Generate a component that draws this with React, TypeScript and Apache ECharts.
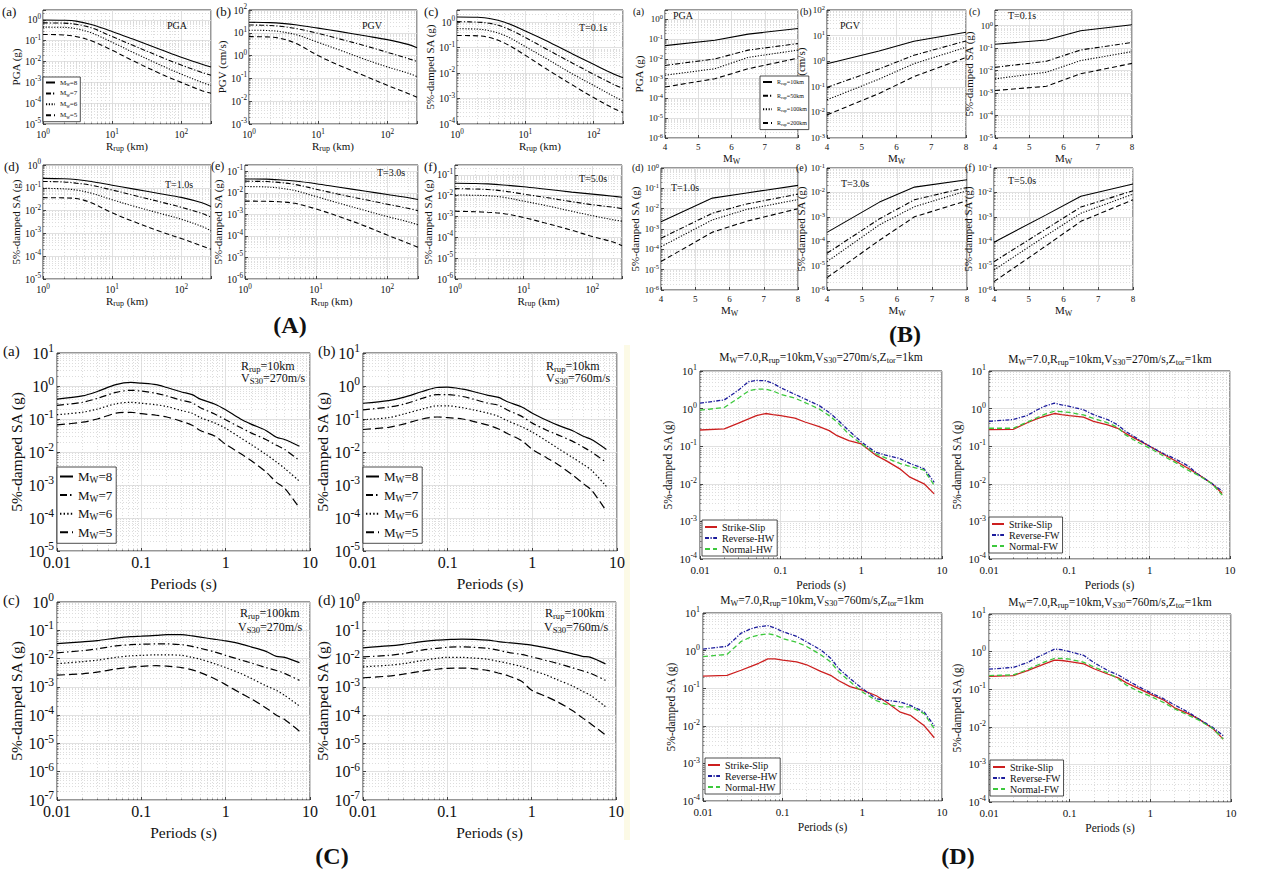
import React, { useEffect, useRef } from 'react';
import * as echarts from 'echarts';

const FONT = 'Liberation Serif, Times New Roman, serif';
const INK = '#111111';
const MAJOR = '#d9d9d9';
const MINOR = '#cfcfcf';

// ---------------- (A) amplitude vs rupture distance ----------------
const RRUP = [1, 2, 3, 5, 10, 20, 50, 100, 200, 270];
const A_PGA_M8 = [1.0, 0.97, 0.88, 0.6, 0.28, 0.12, 0.038, 0.016, 0.0075, 0.0055];
const A_PGA_M7 = [0.72, 0.7, 0.62, 0.42, 0.16, 0.06, 0.017, 0.0068, 0.003, 0.0022];
const A_PGA_M6 = [0.45, 0.44, 0.38, 0.24, 0.085, 0.028, 0.0068, 0.0025, 0.001, 0.0007];
const A_PGA_M5 = [0.2, 0.19, 0.16, 0.1, 0.035, 0.011, 0.0026, 0.001, 0.0004, 0.0003];
const A_PGV_M8 = [29, 28, 26, 22, 16, 11.5, 7.2, 5, 3.1, 2.2];
const A_PGV_M7 = [22, 21, 19, 15, 9.5, 5.5, 2.6, 1.4, 0.75, 0.55];
const A_PGV_M6 = [13, 12.5, 11, 8, 3.8, 1.8, 0.65, 0.32, 0.17, 0.12];
const A_PGV_M5 = [6.8, 6.5, 5.5, 3.2, 1.0, 0.38, 0.12, 0.05, 0.022, 0.015];
const A_T01_M8 = [1.6, 1.55, 1.4, 1.0, 0.45, 0.19, 0.055, 0.022, 0.009, 0.0065];
const A_T01_M7 = [1.05, 1.0, 0.9, 0.62, 0.25, 0.09, 0.024, 0.009, 0.0035, 0.0025];
const A_T01_M6 = [0.55, 0.53, 0.46, 0.3, 0.11, 0.038, 0.009, 0.0033, 0.0012, 0.0008];
const A_T01_M5 = [0.3, 0.29, 0.25, 0.15, 0.05, 0.015, 0.0033, 0.0011, 0.0004, 0.00028];
const A_T1_M8 = [0.26, 0.25, 0.23, 0.19, 0.13, 0.09, 0.055, 0.038, 0.022, 0.015];
const A_T1_M7 = [0.19, 0.18, 0.16, 0.13, 0.08, 0.048, 0.024, 0.014, 0.0075, 0.0052];
const A_T1_M6 = [0.095, 0.09, 0.08, 0.058, 0.03, 0.016, 0.0075, 0.0042, 0.002, 0.0013];
const A_T1_M5 = [0.037, 0.036, 0.034, 0.022, 0.008, 0.0034, 0.0012, 0.0006, 0.00028, 0.0002];
const A_T3_M8 = [0.045, 0.044, 0.041, 0.036, 0.027, 0.019, 0.012, 0.0085, 0.006, 0.005];
const A_T3_M7 = [0.035, 0.034, 0.031, 0.025, 0.015, 0.009, 0.0048, 0.003, 0.0019, 0.0015];
const A_T3_M6 = [0.02, 0.019, 0.017, 0.013, 0.0068, 0.0035, 0.0015, 0.0008, 0.00045, 0.00033];
const A_T3_M5 = [0.0042, 0.0041, 0.0039, 0.0033, 0.0018, 0.00085, 0.00028, 0.00011, 0.000045, 0.00003];
const A_T5_M8 = [0.04, 0.039, 0.037, 0.033, 0.027, 0.021, 0.015, 0.012, 0.0095, 0.0085];
const A_T5_M7 = [0.022, 0.021, 0.02, 0.017, 0.012, 0.0085, 0.0052, 0.0037, 0.0028, 0.0024];
const A_T5_M6 = [0.011, 0.0105, 0.01, 0.0085, 0.0055, 0.0035, 0.0018, 0.0011, 0.0007, 0.0006];
const A_T5_M5 = [0.0018, 0.0017, 0.0016, 0.0014, 0.0009, 0.0005, 0.00022, 0.00011, 0.00006, 0.00004];

// ---------------- (B) amplitude vs magnitude ----------------
const MW = [4, 5.5, 6.5, 8];
const B_PGA_R10 = [0.047, 0.089, 0.18, 0.35];
const B_PGA_R50 = [0.0047, 0.01, 0.028, 0.06];
const B_PGA_R100 = [0.0015, 0.0032, 0.012, 0.028];
const B_PGA_R200 = [0.00038, 0.001, 0.0032, 0.011];
const B_PGV_R10 = [0.8, 2.5, 6, 13.5];
const B_PGV_R50 = [0.095, 0.5, 1.7, 6.2];
const B_PGV_R100 = [0.031, 0.2, 0.8, 3.5];
const B_PGV_R200 = [0.008, 0.055, 0.25, 1.4];
const B_T01_R10 = [0.15, 0.23, 0.6, 1.1];
const B_T01_R50 = [0.014, 0.026, 0.083, 0.18];
const B_T01_R100 = [0.0043, 0.0085, 0.028, 0.07];
const B_T01_R200 = [0.0013, 0.002, 0.0072, 0.021];
const B_T1_R10 = [0.0023, 0.033, 0.059, 0.14];
const B_T1_R50 = [0.00035, 0.006, 0.017, 0.052];
const B_T1_R100 = [0.000135, 0.0028, 0.0092, 0.028];
const B_T1_R200 = [0.000025, 0.0007, 0.0024, 0.01];
const B_T3_R10 = [0.00023, 0.004, 0.0165, 0.033];
const B_T3_R50 = [0.000032, 0.00083, 0.005, 0.016];
const B_T3_R100 = [0.0000145, 0.00047, 0.0026, 0.0117];
const B_T3_R200 = [0.0000032, 0.00011, 0.001, 0.0046];
const B_T5_R10 = [0.000091, 0.0012, 0.0069, 0.022];
const B_T5_R50 = [0.0000145, 0.00032, 0.0025, 0.0117];
const B_T5_R100 = [0.0000066, 0.00017, 0.0014, 0.0085];
const B_T5_R200 = [0.0000022, 0.000065, 0.00065, 0.005];

// ---------------- (C) response spectra by magnitude ----------------
const PER_C = [0.01, 0.02, 0.03, 0.05, 0.075, 0.1, 0.15, 0.2, 0.3, 0.4, 0.5, 0.75, 1, 1.5, 2, 3, 4, 5, 7.5];
const C_A_M8 = [0.4, 0.5, 0.68, 1.1, 1.28, 1.22, 1.1, 0.9, 0.66, 0.55, 0.4, 0.28, 0.19, 0.1, 0.07, 0.045, 0.028, 0.024, 0.015];
const C_A_M7 = [0.26, 0.32, 0.42, 0.64, 0.74, 0.7, 0.6, 0.5, 0.37, 0.31, 0.22, 0.14, 0.095, 0.055, 0.038, 0.024, 0.016, 0.012, 0.0055];
const C_A_M6 = [0.135, 0.16, 0.2, 0.29, 0.32, 0.3, 0.27, 0.24, 0.18, 0.15, 0.11, 0.075, 0.052, 0.027, 0.017, 0.0085, 0.005, 0.0032, 0.0013];
const C_A_M5 = [0.066, 0.08, 0.1, 0.15, 0.16, 0.145, 0.13, 0.115, 0.085, 0.065, 0.045, 0.03, 0.017, 0.009, 0.0055, 0.0025, 0.0012, 0.0008, 0.0002];
const C_B_M8 = [0.3, 0.36, 0.45, 0.68, 0.9, 0.92, 0.8, 0.68, 0.52, 0.45, 0.34, 0.23, 0.15, 0.09, 0.065, 0.044, 0.03, 0.024, 0.012];
const C_B_M7 = [0.19, 0.23, 0.28, 0.42, 0.55, 0.55, 0.48, 0.4, 0.3, 0.26, 0.19, 0.12, 0.075, 0.045, 0.033, 0.021, 0.014, 0.01, 0.0048];
const C_B_M6 = [0.095, 0.11, 0.14, 0.2, 0.25, 0.25, 0.22, 0.19, 0.15, 0.12, 0.09, 0.058, 0.04, 0.021, 0.013, 0.0068, 0.0042, 0.0028, 0.0009];
const C_B_M5 = [0.048, 0.056, 0.07, 0.1, 0.115, 0.11, 0.1, 0.085, 0.065, 0.05, 0.037, 0.022, 0.012, 0.0065, 0.0042, 0.002, 0.0011, 0.0007, 0.00016];
const C_C_M8 = [0.034, 0.039, 0.043, 0.053, 0.06, 0.062, 0.066, 0.07, 0.07, 0.063, 0.057, 0.048, 0.042, 0.033, 0.026, 0.018, 0.012, 0.011, 0.0072];
const C_C_M7 = [0.016, 0.019, 0.022, 0.028, 0.031, 0.032, 0.033, 0.033, 0.031, 0.027, 0.023, 0.017, 0.013, 0.009, 0.007, 0.0048, 0.0038, 0.003, 0.0017];
const C_C_M6 = [0.0066, 0.0078, 0.0088, 0.011, 0.0125, 0.013, 0.0135, 0.0135, 0.013, 0.011, 0.0095, 0.0065, 0.0048, 0.003, 0.002, 0.0011, 0.00075, 0.0005, 0.00021];
const C_C_M5 = [0.0026, 0.0029, 0.0033, 0.0043, 0.005, 0.0053, 0.0056, 0.0054, 0.0048, 0.004, 0.0032, 0.0019, 0.0012, 0.0006, 0.00038, 0.00018, 0.0001, 0.00007, 0.000027];
const C_D_M8 = [0.024, 0.028, 0.032, 0.04, 0.045, 0.047, 0.049, 0.048, 0.045, 0.04, 0.037, 0.033, 0.03, 0.024, 0.02, 0.015, 0.012, 0.011, 0.0065];
const C_D_M7 = [0.0115, 0.013, 0.015, 0.02, 0.023, 0.025, 0.026, 0.025, 0.023, 0.02, 0.017, 0.014, 0.0115, 0.0085, 0.0068, 0.0048, 0.0037, 0.003, 0.0017];
const C_D_M6 = [0.0051, 0.0058, 0.0066, 0.0085, 0.0102, 0.011, 0.011, 0.0105, 0.0095, 0.008, 0.007, 0.0053, 0.0039, 0.0026, 0.0018, 0.0011, 0.0007, 0.0005, 0.0002];
const C_D_M5 = [0.0021, 0.0024, 0.0028, 0.0036, 0.0042, 0.0045, 0.0046, 0.0044, 0.0038, 0.0031, 0.0026, 0.0016, 0.00076, 0.00045, 0.0003, 0.00015, 0.00008, 0.00005, 0.00002];

// ---------------- (D) response spectra by fault type ----------------
const PER_D = [0.01, 0.02, 0.03, 0.04, 0.05, 0.065, 0.08, 0.1, 0.15, 0.2, 0.3, 0.4, 0.5, 0.7, 1, 1.5, 2, 3, 4, 6, 8];
const D_A_SS = [0.27, 0.29, 0.41, 0.53, 0.65, 0.74, 0.69, 0.65, 0.56, 0.44, 0.33, 0.26, 0.19, 0.14, 0.115, 0.058, 0.042, 0.025, 0.015, 0.01, 0.0054];
const D_A_RV = [1.4, 1.7, 3.1, 5.2, 5.6, 5.5, 4.7, 3.6, 2.4, 1.8, 1.2, 0.79, 0.52, 0.26, 0.13, 0.069, 0.058, 0.047, 0.035, 0.025, 0.011];
const D_A_NM = [0.91, 1.07, 1.9, 2.95, 3.3, 3.3, 2.95, 2.4, 1.9, 1.45, 0.98, 0.65, 0.44, 0.21, 0.115, 0.063, 0.049, 0.035, 0.029, 0.023, 0.0091];
const D_B_SS = [0.275, 0.28, 0.42, 0.54, 0.63, 0.74, 0.69, 0.65, 0.59, 0.46, 0.37, 0.3, 0.22, 0.15, 0.1, 0.06, 0.043, 0.026, 0.018, 0.01, 0.0055];
const D_B_RV = [0.46, 0.51, 0.66, 0.93, 1.17, 1.4, 1.26, 1.15, 0.93, 0.69, 0.51, 0.37, 0.25, 0.16, 0.1, 0.063, 0.048, 0.03, 0.018, 0.01, 0.0065];
const D_B_NM = [0.3, 0.3, 0.44, 0.58, 0.71, 0.85, 0.83, 0.79, 0.68, 0.55, 0.42, 0.32, 0.2, 0.13, 0.089, 0.054, 0.039, 0.023, 0.017, 0.01, 0.005];
const D_C_SS = [0.21, 0.22, 0.3, 0.38, 0.46, 0.6, 0.6, 0.56, 0.5, 0.42, 0.28, 0.22, 0.16, 0.11, 0.089, 0.063, 0.043, 0.023, 0.019, 0.01, 0.0048];
const D_C_RV = [1.1, 1.3, 2.9, 3.8, 4.3, 4.6, 4.0, 3.2, 2.4, 1.7, 1.05, 0.63, 0.34, 0.18, 0.098, 0.052, 0.048, 0.043, 0.035, 0.023, 0.01];
const D_C_NM = [0.69, 0.79, 1.74, 2.3, 2.6, 2.8, 2.6, 2.1, 1.66, 1.29, 0.78, 0.5, 0.28, 0.15, 0.079, 0.047, 0.037, 0.032, 0.032, 0.021, 0.0083];
const D_D_SS = [0.22, 0.23, 0.31, 0.4, 0.48, 0.59, 0.58, 0.54, 0.47, 0.35, 0.25, 0.2, 0.15, 0.107, 0.074, 0.05, 0.032, 0.022, 0.016, 0.0089, 0.0047];
const D_D_RV = [0.34, 0.38, 0.51, 0.71, 0.89, 1.17, 1.12, 1.0, 0.79, 0.51, 0.31, 0.24, 0.18, 0.12, 0.081, 0.054, 0.038, 0.024, 0.016, 0.0095, 0.0058];
const D_D_NM = [0.23, 0.24, 0.33, 0.44, 0.54, 0.66, 0.66, 0.63, 0.52, 0.39, 0.27, 0.19, 0.13, 0.089, 0.065, 0.043, 0.03, 0.02, 0.015, 0.0089, 0.0047];

// ---------------- names ----------------
const MW_NAMES_A = ['M_{w}=8', 'M_{w}=7', 'M_{w}=6', 'M_{w}=5'];
const R_NAMES_B = ['R_{rup}=10km', 'R_{rup}=50km', 'R_{rup}=100km', 'R_{rup}=200km'];
const MW_NAMES_C = ['M_{W}=8', 'M_{W}=7', 'M_{W}=6', 'M_{W}=5'];
const HW_NAMES = ['Strike-Slip', 'Reverse-HW', 'Normal-HW'];
const FW_NAMES = ['Strike-Slip', 'Reverse-FW', 'Normal-FW'];

// ---------------- helpers ----------------
function rich(fs: number) {
  return {
    n: { fontFamily: FONT, fontSize: fs, color: INK },
    sub: { fontFamily: FONT, fontSize: fs * 0.72, color: INK, padding: [fs * 0.55, 0, 0, 0] },
    sup: { fontFamily: FONT, fontSize: fs * 0.72, color: INK, padding: [0, 0, fs * 0.6, 0] },
  };
}
function rt(s: string): string {
  let out = '';
  const re = /([_^])\{([^}]*)\}/g;
  let last = 0;
  let m: RegExpExecArray | null;
  while ((m = re.exec(s))) {
    if (m.index > last) out += `{n|${s.slice(last, m.index)}}`;
    out += `{${m[1] === '_' ? 'sub' : 'sup'}|${m[2]}}`;
    last = re.lastIndex;
  }
  if (last < s.length) out += `{n|${s.slice(last)}}`;
  return out;
}
const isPow = (v: number) => {
  const e = Math.log10(v);
  return Math.abs(e - Math.round(e)) < 1e-6;
};
const supFmt = (v: number) => (isPow(v) ? `{n|10}{sup|${Math.round(Math.log10(v))}}` : '');
const decFmt = (v: number) => {
  if (!isPow(v)) return '';
  const e = Math.round(Math.log10(v));
  return `{n|${e >= 0 ? String(Math.pow(10, e)) : Math.pow(10, e).toFixed(-e)}}`;
};

type Kind = 'solid' | 'dashdot' | 'dotted' | 'dashed';
const DASH_SMALL: Record<Kind, any> = { solid: 'solid', dashdot: [5, 2, 1.2, 2], dotted: [1.2, 1.6], dashed: [5, 3] };
const DASH_BIG: Record<Kind, any> = { solid: 'solid', dashdot: [7, 3, 1.5, 3], dotted: [1.4, 2.2], dashed: [8, 4] };
const DASH_D: Record<Kind, any> = { solid: 'solid', dashdot: [4, 1.5, 1.2, 1.5], dotted: [1.4, 2], dashed: [5, 3] };

interface Curve { name: string; x: number[]; y: number[]; kind: Kind; color: string; }
interface Panel {
  box: [number, number, number, number];
  xMode: 'sup' | 'dec' | 'lin';
  xr: [number, number];
  yr: [number, number];
  xName: string;
  yName: string;
  fs: number;
  nameFs: number;
  xGap: number;
  yGap: number;
  xMargin: number;
  yMargin: number;
  lw: number;
  dash: Record<Kind, any>;
  smooth: number | boolean;
  curves: Curve[];
  legend?: any;
}

const BLACK4: Kind[] = ['solid', 'dashdot', 'dotted', 'dashed'];
function blackCurves(names: string[], x: number[], ys: number[][]): Curve[] {
  return ys.map((y, k) => ({ name: names[k], x, y, kind: BLACK4[k], color: '#000000' }));
}
function faultCurves(names: string[], ys: number[][]): Curve[] {
  const kinds: Kind[] = ['solid', 'dashdot', 'dashed'];
  const cols = ['#cc1f1f', '#1c1c9c', '#3cc83c'];
  return ys.map((y, k) => ({ name: names[k], x: PER_D, y, kind: kinds[k], color: cols[k] }));
}

const A_COMMON = { xMode: 'sup' as const, xr: [1, 270] as [number, number], xName: 'R_{rup} (km)', fs: 10, nameFs: 11, xGap: 13, yGap: 19, xMargin: 4, yMargin: 2, lw: 1.1, dash: DASH_SMALL, smooth: 0.35 };
const B_COMMON = { xMode: 'lin' as const, xr: [4, 8] as [number, number], xName: 'M_{W}', fs: 9, nameFs: 11, xGap: 13, yGap: 19, xMargin: 4, yMargin: 2, lw: 1.1, dash: DASH_SMALL, smooth: false };
const C_COMMON = { xMode: 'dec' as const, xr: [0.01, 10] as [number, number], xName: 'Periods (s)', yName: '5%-damped SA (g)', fs: 16, nameFs: 15.5, xGap: 24, yGap: 30, xMargin: 3, yMargin: 3, lw: 1.2, dash: DASH_BIG, smooth: 0.3 };
const D_COMMON = { xMode: 'dec' as const, xr: [0.01, 10] as [number, number], xName: 'Periods (s)', yName: '5%-damped SA (g)', yr: [1e-4, 10] as [number, number], fs: 11, nameFs: 11.5, xGap: 20, yGap: 26, xMargin: 5, yMargin: 3, lw: 1.3, dash: DASH_D, smooth: false };

const SA = '5%-damped SA (g)';
const PANELS: Panel[] = [
  // (A)
  { ...A_COMMON, box: [43, 10, 211, 124], yr: [1e-5, 3], yName: 'PGA (g)', curves: blackCurves(MW_NAMES_A, RRUP, [A_PGA_M8, A_PGA_M7, A_PGA_M6, A_PGA_M5]),
    legend: { left: 43, top: 77, fs: 7, iw: 9, ih: 6, gap: 3, pad: [2, 3, 2, 2], names: MW_NAMES_A } },
  { ...A_COMMON, box: [249, 10, 417, 124], yr: [1e-3, 100], yName: 'PGV (cm/s)', curves: blackCurves(MW_NAMES_A, RRUP, [A_PGV_M8, A_PGV_M7, A_PGV_M6, A_PGV_M5]) },
  { ...A_COMMON, box: [457, 10, 623, 124], yr: [1e-4, 3], yName: SA, curves: blackCurves(MW_NAMES_A, RRUP, [A_T01_M8, A_T01_M7, A_T01_M6, A_T01_M5]) },
  { ...A_COMMON, box: [43, 165, 211, 279], yr: [1e-5, 1], yName: SA, curves: blackCurves(MW_NAMES_A, RRUP, [A_T1_M8, A_T1_M7, A_T1_M6, A_T1_M5]) },
  { ...A_COMMON, box: [245, 165, 418, 279], yr: [1e-6, 0.2], yName: SA, curves: blackCurves(MW_NAMES_A, RRUP, [A_T3_M8, A_T3_M7, A_T3_M6, A_T3_M5]) },
  { ...A_COMMON, box: [455, 165, 622, 279], yr: [1e-6, 0.3], yName: SA, curves: blackCurves(MW_NAMES_A, RRUP, [A_T5_M8, A_T5_M7, A_T5_M6, A_T5_M5]) },
  // (B)
  { ...B_COMMON, box: [665, 10, 798, 138], yr: [1e-6, 3], yName: 'PGA (g)', curves: blackCurves(R_NAMES_B, MW, [B_PGA_R10, B_PGA_R50, B_PGA_R100, B_PGA_R200]),
    legend: { left: 760, top: 76, fs: 6, iw: 9, ih: 6, gap: 7, pad: [3, 2, 3, 2], names: R_NAMES_B } },
  { ...B_COMMON, box: [827, 10, 966, 138], yr: [1e-3, 100], yName: 'PGV (cm/s)', curves: blackCurves(R_NAMES_B, MW, [B_PGV_R10, B_PGV_R50, B_PGV_R100, B_PGV_R200]) },
  { ...B_COMMON, box: [995, 10, 1132, 138], yr: [1e-5, 5], yName: SA, curves: blackCurves(R_NAMES_B, MW, [B_T01_R10, B_T01_R50, B_T01_R100, B_T01_R200]) },
  { ...B_COMMON, box: [661, 168, 798, 290], yr: [1e-6, 1], yName: SA, curves: blackCurves(R_NAMES_B, MW, [B_T1_R10, B_T1_R50, B_T1_R100, B_T1_R200]) },
  { ...B_COMMON, box: [827, 168, 967, 290], yr: [1e-6, 0.1], yName: SA, curves: blackCurves(R_NAMES_B, MW, [B_T3_R10, B_T3_R50, B_T3_R100, B_T3_R200]) },
  { ...B_COMMON, box: [994, 168, 1133, 290], yr: [1e-6, 0.1], yName: SA, curves: blackCurves(R_NAMES_B, MW, [B_T5_R10, B_T5_R50, B_T5_R100, B_T5_R200]) },
  // (C)
  { ...C_COMMON, box: [57, 353, 310, 551], yr: [1e-5, 10], curves: blackCurves(MW_NAMES_C, PER_C, [C_A_M8, C_A_M7, C_A_M6, C_A_M5]),
    legend: { left: 57, top: 467, fs: 13, iw: 13, ih: 8, gap: 4, pad: [3, 4, 3, 2], names: MW_NAMES_C } },
  { ...C_COMMON, box: [363, 353, 617, 551], yr: [1e-5, 10], curves: blackCurves(MW_NAMES_C, PER_C, [C_B_M8, C_B_M7, C_B_M6, C_B_M5]),
    legend: { left: 363, top: 467, fs: 13, iw: 13, ih: 8, gap: 4, pad: [3, 4, 3, 2], names: MW_NAMES_C } },
  { ...C_COMMON, box: [57, 602, 310, 800], yr: [1e-7, 1], curves: blackCurves(MW_NAMES_C, PER_C, [C_C_M8, C_C_M7, C_C_M6, C_C_M5]) },
  { ...C_COMMON, box: [363, 602, 616, 800], yr: [1e-7, 1], curves: blackCurves(MW_NAMES_C, PER_C, [C_D_M8, C_D_M7, C_D_M6, C_D_M5]) },
  // (D)
  { ...D_COMMON, box: [700, 371, 942, 559], curves: faultCurves(HW_NAMES, [D_A_SS, D_A_RV, D_A_NM]),
    legend: { left: 702, top: 520, fs: 10, iw: 12, ih: 6, gap: 1, pad: [2, 3, 2, 2], names: HW_NAMES } },
  { ...D_COMMON, box: [989, 371, 1230, 559], curves: faultCurves(FW_NAMES, [D_B_SS, D_B_RV, D_B_NM]),
    legend: { left: 989, top: 517, fs: 10, iw: 12, ih: 6, gap: 1, pad: [2, 3, 2, 2], names: FW_NAMES } },
  { ...D_COMMON, box: [703, 613, 942, 801], curves: faultCurves(HW_NAMES, [D_C_SS, D_C_RV, D_C_NM]),
    legend: { left: 705, top: 758, fs: 10, iw: 12, ih: 6, gap: 1, pad: [2, 3, 2, 2], names: HW_NAMES } },
  { ...D_COMMON, box: [989, 614, 1231, 802], curves: faultCurves(FW_NAMES, [D_D_SS, D_D_RV, D_D_NM]),
    legend: { left: 990, top: 760, fs: 10, iw: 12, ih: 6, gap: 1, pad: [2, 3, 2, 2], names: FW_NAMES } },
];

// ---------------- annotations ----------------
const PANEL_TAGS: [string, number, number, number][] = [
  ['(a)', 2, 5, 13], ['(b)', 216, 5, 13], ['(c)', 424, 5, 13],
  ['(d)', 4, 160, 13], ['(e)', 211, 160, 12], ['(f)', 424, 160, 13],
  ['(a)', 633, 6, 10], ['(b)', 800, 6, 10], ['(c)', 969, 6, 10],
  ['(d)', 632, 162, 10], ['(e)', 796, 162, 10], ['(f)', 965, 162, 10],
  ['(a)', 3, 343, 15], ['(b)', 318, 343, 15], ['(c)', 3, 592, 15], ['(d)', 318, 592, 15],
];
const INNER_TITLES: [string, number, number][] = [
  ['PGA', 177, 25], ['PGV', 372, 25], ['T=0.1s', 593, 27],
  ['T=1.0s', 179, 184], ['T=3.0s', 391, 172], ['T=5.0s', 593, 178],
  ['PGA', 683, 15], ['PGV', 850, 25], ['T=0.1s', 1022, 15],
  ['T=1.0s', 685, 187], ['T=3.0s', 855, 183], ['T=5.0s', 1022, 180],
];
const C_NOTES: [string, number, number][] = [
  ['R_{rup}=10km', 241, 366], ['V_{S30}=270m/s', 241, 378],
  ['R_{rup}=10km', 546, 366], ['V_{S30}=760m/s', 546, 378],
  ['R_{rup}=100km', 240, 613], ['V_{S30}=270m/s', 238, 627],
  ['R_{rup}=100km', 545, 613], ['V_{S30}=760m/s', 544, 627],
];
const D_TITLES: [string, number, number][] = [
  ['M_{W}=7.0,R_{rup}=10km,V_{S30}=270m/s,Z_{tor}=1km', 821, 357],
  ['M_{W}=7.0,R_{rup}=10km,V_{S30}=270m/s,Z_{tor}=1km', 1110, 359],
  ['M_{W}=7.0,R_{rup}=10km,V_{S30}=760m/s,Z_{tor}=1km', 822, 600],
  ['M_{W}=7.0,R_{rup}=10km,V_{S30}=760m/s,Z_{tor}=1km', 1110, 602],
];
const GROUP_TAGS: [string, number, number][] = [['(A)', 290, 325], ['(B)', 905, 334], ['(C)', 332, 856], ['(D)', 958, 856]];

function textEl(text: string, x: number, y: number, fs: number, align: string, vAlign: string, bold = false) {
  const r: any = rich(fs);
  if (bold) Object.keys(r).forEach((k) => (r[k].fontWeight = 'bold'));
  return {
    type: 'text', x, y, silent: true, z: 20,
    style: { text: rt(text), rich: r, fontFamily: FONT, fontSize: fs, fontWeight: bold ? 'bold' : 'normal', fill: INK,
      align, textAlign: align, verticalAlign: vAlign, textVerticalAlign: vAlign },
  };
}

function axisCfg(i: number, isX: boolean, p: Panel) {
  const mode = isX ? p.xMode : 'sup';
  const [mn, mx] = isX ? p.xr : p.yr;
  const cfg: any = {
    gridIndex: i, min: mn, max: mx,
    position: isX ? 'bottom' : 'left',
    axisLine: { show: false },
    axisTick: { show: true, inside: true, length: 3, lineStyle: { color: '#1a1a1a', width: 0.8 } },
    axisLabel: { show: true, margin: isX ? p.xMargin : p.yMargin, fontFamily: FONT, fontSize: p.fs, color: INK, rich: rich(p.fs),
      formatter: mode === 'lin' ? (v: number) => `{n|${v}}` : mode === 'dec' ? decFmt : supFmt },
    splitLine: { show: true, lineStyle: { color: MAJOR, width: 0.8 } },
    name: rt(isX ? p.xName : p.yName), nameLocation: 'middle', nameGap: isX ? p.xGap : p.yGap,
    nameRotate: isX ? 0 : 90,
    nameTextStyle: { fontFamily: FONT, fontSize: p.nameFs, color: INK, rich: rich(p.nameFs) },
  };
  if (mode === 'lin') {
    cfg.type = 'value';
    cfg.interval = 1;
  } else {
    cfg.type = 'log';
    cfg.logBase = 10;
    cfg.minorTick = { show: true, splitNumber: 9, length: 1.5, lineStyle: { color: '#333', width: 0.6 } };
    cfg.minorSplitLine = { show: true, lineStyle: { color: MINOR, width: 0.7, type: [1, 2] } };
  }
  return cfg;
}

function buildOption() {
  const grid: any[] = [];
  const xAxis: any[] = [];
  const yAxis: any[] = [];
  const series: any[] = [];
  const legend: any[] = [];
  const graphic: any[] = [];
  PANELS.forEach((p, i) => {
    const [l, t, r, b] = p.box;
    grid.push({ left: l, top: t, width: r - l, height: b - t, show: true, borderColor: '#1a1a1a', borderWidth: 0.9, backgroundColor: 'rgba(0,0,0,0)', containLabel: false });
    xAxis.push(axisCfg(i, true, p));
    yAxis.push(axisCfg(i, false, p));
    p.curves.forEach((c) => {
      series.push({
        type: 'line', name: c.name, xAxisIndex: i, yAxisIndex: i,
        data: c.x.map((xv, k) => [xv, c.y[k]]),
        symbol: 'none', showSymbol: false, smooth: p.smooth, silent: true, z: 3,
        lineStyle: { color: c.color, width: p.lw, type: p.dash[c.kind] },
        itemStyle: { color: c.color },
      });
    });
    if (p.legend) {
      const L = p.legend;
      legend.push({
        orient: 'vertical', left: L.left, top: L.top, padding: L.pad,
        itemWidth: L.iw, itemHeight: L.ih, itemGap: L.gap,
        backgroundColor: '#ffffff', borderColor: '#222', borderWidth: 0.8, borderRadius: 0,
        data: L.names, formatter: (n: string) => rt(n), selectedMode: false, z: 10,
        itemStyle: { opacity: 0, borderWidth: 0 },
        textStyle: { fontFamily: FONT, fontSize: L.fs, color: INK, rich: rich(L.fs) },
      });
    }
  });
  graphic.push({ type: 'rect', shape: { x: 624, y: 345, width: 6, height: 495 }, style: { fill: '#fcfae6' }, silent: true, z: 0 });
  PANEL_TAGS.forEach(([s, x, y, fs]) => graphic.push(textEl(s, x, y, fs, 'left', 'top')));
  INNER_TITLES.forEach(([s, x, y]) => graphic.push(textEl(s, x, y, 10, 'center', 'middle')));
  C_NOTES.forEach(([s, x, y]) => graphic.push(textEl(s, x, y, 12, 'left', 'middle')));
  D_TITLES.forEach(([s, x, y]) => graphic.push(textEl(s, x, y, 11.5, 'center', 'middle')));
  GROUP_TAGS.forEach(([s, x, y]) => graphic.push(textEl(s, x, y, 24, 'center', 'middle', true)));
  return { animation: false, backgroundColor: '#ffffff', grid, xAxis, yAxis, series, legend, graphic };
}

export default function App() {
  const ref = useRef<HTMLDivElement>(null);
  useEffect(() => {
    if (!ref.current) return;
    const chart = echarts.init(ref.current, undefined, { renderer: 'svg' });
    chart.setOption(buildOption());
    return () => chart.dispose();
  }, []);
  return <div ref={ref} style={{ position: 'fixed', left: 0, top: 0, width: 1265, height: 881, background: '#fff' }} />;
}
